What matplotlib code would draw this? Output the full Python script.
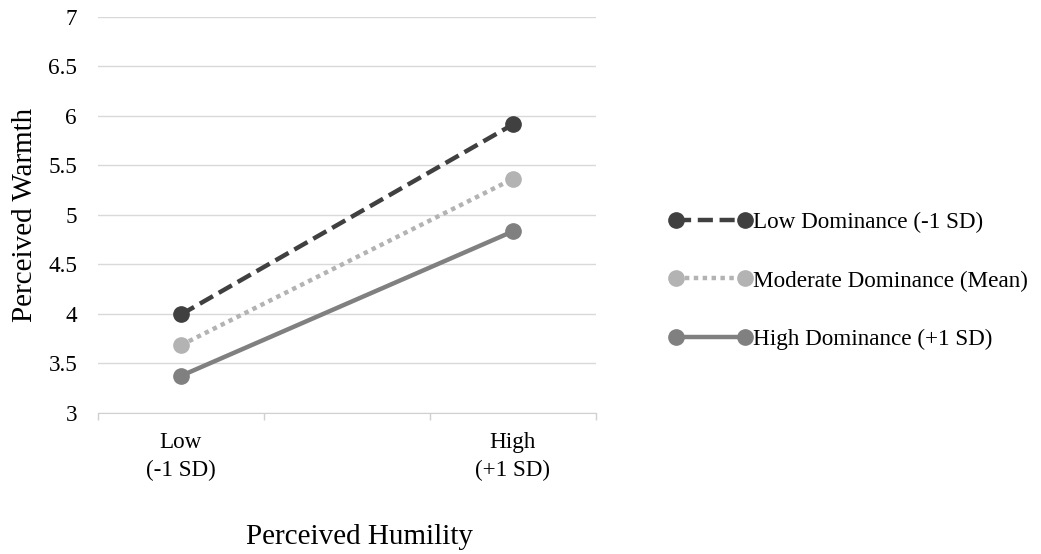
import numpy as np
import matplotlib.pyplot as plt

plt.rcParams['font.family'] = ['Liberation Serif', 'DejaVu Serif']

categories = ['Low\n(-1 SD)', 'High\n(+1 SD)']
low_dom = [3.99, 5.91]
mod_dom = [3.68, 5.36]
high_dom = [3.37, 4.83]
series_names = ['Low Dominance (-1 SD)', 'Moderate Dominance (Mean)', 'High Dominance (+1 SD)']
yticks = [3, 3.5, 4, 4.5, 5, 5.5, 6, 6.5, 7]

fig = plt.figure(figsize=(10.41, 5.54), dpi=100)
ax = fig.add_axes([0.0941, 0.2554, 0.4784, 0.7148])

xpos = [0, 2]
ax.plot(xpos, low_dom, color='#404040', lw=3.2, ls=(0, (3.4, 1.5)), marker='o', ms=11,
        label=series_names[0], zorder=3)
ax.plot(xpos, mod_dom, color='#b3b3b3', lw=3.2, ls=(0, (1, 1)), marker='o', ms=11,
        label=series_names[1], zorder=3)
ax.plot(xpos, high_dom, color='#808080', lw=3.2, ls='-', marker='o', ms=11,
        label=series_names[2], zorder=3)

ax.set_xlim(-0.5, 2.5)
ax.set_ylim(3, 7)
ax.set_yticks(yticks)
ax.set_yticklabels([f'{v:g}' for v in yticks], fontsize=16.7)
ax.set_xticks([-0.5, 0.5, 1.5, 2.5])
ax.set_xticklabels([])
ax.set_xticks(xpos, minor=True)
ax.set_xticklabels(categories, minor=True, fontsize=16.7, linespacing=1.4)
ax.tick_params(axis='x', which='major', length=5, color='#d0d0d0', width=1)
ax.tick_params(axis='x', which='minor', length=0, pad=14)
ax.tick_params(axis='y', length=0, pad=15)
ax.grid(axis='y', color='#d9d9d9', lw=1)
ax.set_axisbelow(True)
for s in ['top', 'right', 'left']:
    ax.spines[s].set_visible(False)
ax.spines['bottom'].set_color('#d0d0d0')

ax.set_ylabel('Perceived Warmth', fontsize=21)
ax.yaxis.set_label_coords(-0.1466, 0.5)
ax.yaxis.label.set_va('center')
ax.set_xlabel('Perceived Humility', fontsize=21)
ax.xaxis.set_label_coords(0.526, -0.314)
ax.xaxis.label.set_va('center')

fig.legend(loc='center left', bbox_to_anchor=(0.6427, 0.4928), frameon=False, fontsize=16.7,
           numpoints=2, handlelength=3.58, handletextpad=0.05, labelspacing=1.61,
           borderpad=0, borderaxespad=0)

plt.savefig('out.png', dpi=100)
plt.close()
